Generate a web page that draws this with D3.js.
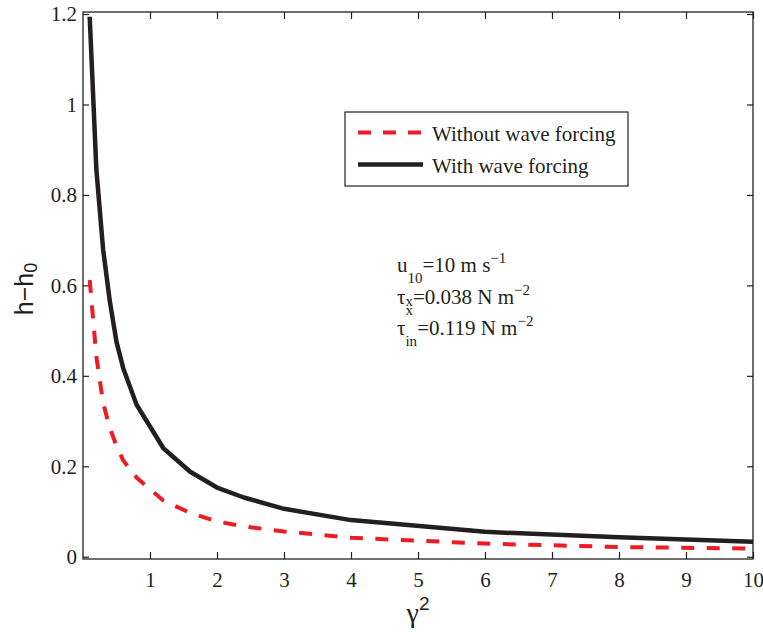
<!DOCTYPE html>
<html>
<head>
<meta charset="utf-8">
<script src="https://cdn.jsdelivr.net/npm/d3@7"></script>
<style>
  html, body { margin: 0; padding: 0; background: #fff; }
  svg { display: block; }
</style>
</head>
<body>
<svg id="chart" width="763" height="632"></svg>
<script>
// gamma^2 sample points and setup height anomaly h - h0
const gammaSq = [0.1, 0.2, 0.3, 0.4, 0.5, 0.6, 0.8, 1.2, 1.6, 2, 2.4, 3, 4, 6, 8, 10];
const withoutWave = [0.612, 0.442, 0.340, 0.285, 0.245, 0.213, 0.175, 0.124, 0.097, 0.078, 0.067, 0.056, 0.042, 0.029, 0.0215, 0.018];
const withWave    = [1.194, 0.855, 0.680, 0.565, 0.475, 0.417, 0.336, 0.240, 0.188, 0.153, 0.131, 0.106, 0.081, 0.055, 0.043, 0.033];

const seriesNames = ["Without wave forcing", "With wave forcing"];
const xTicks = [1, 2, 3, 4, 5, 6, 7, 8, 9, 10];
const yTicks = [0, 0.2, 0.4, 0.6, 0.8, 1, 1.2];

// annotation lines: plain runs, subscripts and superscripts
const notes = [
  [{t: "u"}, {t: "10", k: "sub"}, {t: "=10 m s"}, {t: "\u22121", k: "sup"}],
  [{t: "\u03c4"}, {t: "x", k: "subTight"}, {t: "=0.038 N m"}, {t: "\u22122", k: "sup"}],
  [{t: "\u03c4"}, {t: "x", k: "supHigh"}, {t: "in", k: "sub", under: true}, {t: "=0.119 N m"}, {t: "\u22122", k: "sup"}]
];

const ink = "#231f20";
const red = "#ed1c24";
const serif = "'Liberation Serif', 'Times New Roman', serif";
const sans = "'Liberation Sans', Arial, Helvetica, sans-serif";

const svg = d3.select("#chart");
const L = 83, R = 753, T = 12, B = 559;

const x = d3.scaleLinear().domain([0, 10]).range([L, R]);
const y = d3.scaleLinear().domain([-0.005, 1.2045]).range([B, T]);

// frame
svg.append("rect")
  .attr("x", L).attr("y", T).attr("width", R - L).attr("height", B - T)
  .attr("fill", "none").attr("stroke", ink).attr("stroke-width", 1.3);

const fmt = d3.format("~g");

function styleAxis(g) {
  g.select(".domain").remove();
  g.selectAll(".tick line").attr("stroke", ink).attr("stroke-width", 1.2);
  g.selectAll(".tick text").attr("fill", ink)
    .style("font-family", serif).style("font-size", "21px");
}

svg.append("g").attr("transform", `translate(0,${B})`)
  .call(d3.axisBottom(x).tickValues(xTicks).tickFormat(fmt).tickSizeInner(-7).tickSizeOuter(0).tickPadding(13))
  .call(styleAxis);
svg.append("g").attr("transform", `translate(0,${T})`)
  .call(d3.axisTop(x).tickValues(xTicks).tickFormat("").tickSizeInner(-7).tickSizeOuter(0))
  .call(styleAxis);
svg.append("g").attr("transform", `translate(${L},0)`)
  .call(d3.axisLeft(y).tickValues(yTicks).tickFormat(fmt).tickSizeInner(-6).tickSizeOuter(0).tickPadding(6))
  .call(styleAxis);
svg.append("g").attr("transform", `translate(${R},0)`)
  .call(d3.axisRight(y).tickValues(yTicks).tickFormat("").tickSizeInner(-6).tickSizeOuter(0))
  .call(styleAxis);

// curves
const line = d3.line().x(d => x(d[0])).y(d => y(d[1]));
svg.append("path")
  .datum(gammaSq.map((g, i) => [g, withoutWave[i]]))
  .attr("d", line).attr("fill", "none").attr("stroke", red)
  .attr("stroke-width", 4).attr("stroke-dasharray", "13,12.5");
svg.append("path")
  .datum(gammaSq.map((g, i) => [g, withWave[i]]))
  .attr("d", line).attr("fill", "none").attr("stroke", ink)
  .attr("stroke-width", 4.5).attr("stroke-linejoin", "round");

// legend
const lg = svg.append("g");
lg.append("rect").attr("x", 345).attr("y", 112).attr("width", 283).attr("height", 74)
  .attr("fill", "#fff").attr("stroke", ink).attr("stroke-width", 1.2);
const legendStyles = [
  {stroke: red, w: 4, dash: "13,12"},
  {stroke: ink, w: 4.5, dash: null}
];
seriesNames.forEach((name, i) => {
  const cy = 132.5 + i * 32;
  lg.append("line").attr("x1", 358).attr("x2", 423).attr("y1", cy).attr("y2", cy)
    .attr("stroke", legendStyles[i].stroke).attr("stroke-width", legendStyles[i].w)
    .attr("stroke-dasharray", legendStyles[i].dash);
  lg.append("text").attr("x", 432).attr("y", cy + 8.5)
    .attr("fill", ink).style("font-family", serif).style("font-size", "21px")
    .text(name);
});

// annotation block
const shifts = {sub: 11, subTight: 2, sup: -9, supHigh: -20};
notes.forEach((parts, li) => {
  const t = svg.append("text").attr("x", 397).attr("y", 272 + li * 31.5)
    .attr("fill", ink).style("font-family", serif).style("font-size", "21px");
  let cur = 0, prev = null;
  parts.forEach(p => {
    const target = p.k ? shifts[p.k] : 0;
    const ts = t.append("tspan").attr("dy", target - cur).text(p.t);
    if (p.k) ts.style("font-size", "15px");
    if (p.under && prev) ts.attr("dx", -prev.node().getComputedTextLength());
    cur = target;
    prev = ts;
  });
});

// axis titles
const yl = svg.append("text")
  .attr("transform", "translate(33,289) rotate(-90)")
  .attr("text-anchor", "middle").attr("fill", ink)
  .style("font-family", sans).style("font-size", "25px");
yl.append("tspan").text("h\u2212h");
yl.append("tspan").attr("dy", 4).style("font-size", "18px").text("0");

const xl = svg.append("text")
  .attr("x", 418).attr("y", 622).attr("text-anchor", "middle").attr("fill", ink)
  .style("font-family", serif).style("font-size", "28px");
xl.append("tspan").text("\u03b3");
xl.append("tspan").attr("dy", -12).style("font-family", sans).style("font-size", "19px").text("2");
</script>
</body>
</html>
